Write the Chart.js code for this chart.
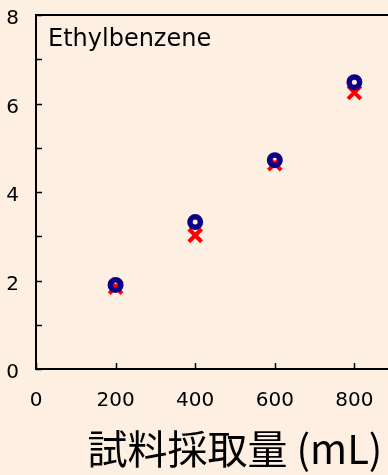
<!DOCTYPE html>
<html>
<head>
<meta charset="utf-8">
<script src="https://cdn.jsdelivr.net/npm/chart.js@4.4.1/dist/chart.umd.min.js"></script>
<style>
    html, body { margin: 0; padding: 0; background: #fdf0e3; overflow: hidden; }
    #wrap { width: 460px; height: 475px; position: relative; }
</style>
</head>
<body>
<div id="wrap"><canvas id="sampleChart"></canvas></div>
<script>
// 試料採取量 (mL) と測定値
const sampleVolumes = [200, 400, 600, 800];
const circleValues = [1.9, 3.32, 4.72, 6.48];
const crossValues = [1.85, 3.02, 4.64, 6.25];
const compoundName = 'Ethylbenzene';
const xTitle = '試料採取量 (mL)';

function toPoints(values) {
    return sampleVolumes.map((v, i) => ({ x: v, y: values[i] }));
}

// 枠線と内向きの目盛り、化合物名を描く
const framePlugin = {
    id: 'frame',
    beforeDatasetsDraw(chart) {
        const { ctx, chartArea, scales } = chart;
        const { left, right, top, bottom } = chartArea;
        ctx.save();
        ctx.strokeStyle = '#000';
        ctx.lineWidth = 2;
        ctx.strokeRect(left, top, right - left, bottom - top);

        ctx.lineWidth = 1.5;
        ctx.beginPath();
        scales.y.ticks.forEach(t => {
            const py = Math.round(scales.y.getPixelForValue(t.value)) + 0.5;
            ctx.moveTo(left, py);
            ctx.lineTo(left + 6, py);
        });
        scales.x.ticks.forEach(t => {
            const px = Math.round(scales.x.getPixelForValue(t.value)) + 0.5;
            ctx.moveTo(px, bottom);
            ctx.lineTo(px, bottom - 6);
        });
        ctx.stroke();

        ctx.fillStyle = '#000';
        ctx.font = '24px "DejaVu Sans"';
        ctx.textBaseline = 'alphabetic';
        ctx.fillText(compoundName, left + 12, top + 31);
        ctx.restore();
    }
};

Chart.defaults.font.family = '"DejaVu Sans", sans-serif';
Chart.defaults.color = '#000';

new Chart(document.getElementById('sampleChart'), {
    type: 'scatter',
    data: {
        datasets: [{
            label: 'circle',
            data: toPoints(circleValues),
            pointStyle: 'circle',
            pointRadius: 5.25,
            pointHoverRadius: 5.25,
            pointBorderWidth: 5.5,
            pointBorderColor: '#0c0088',
            pointBackgroundColor: 'rgba(0,0,0,0)',
            order: 0
        }, {
            label: 'cross',
            data: toPoints(crossValues),
            pointStyle: 'crossRot',
            pointRadius: 9,
            pointHoverRadius: 9,
            pointBorderWidth: 4,
            pointBorderColor: '#ff0000',
            order: 1
        }]
    },
    options: {
        responsive: true,
        maintainAspectRatio: false,
        devicePixelRatio: 1,
        animation: false,
        events: [],
        layout: { padding: { top: 15, right: 26, left: 0, bottom: 0 } },
        plugins: {
            legend: { display: false },
            tooltip: { enabled: false }
        },
        scales: {
            x: {
                type: 'linear',
                min: 0,
                max: 1000,
                grid: { display: false },
                border: { display: false },
                ticks: {
                    stepSize: 200,
                    padding: 12,
                    maxRotation: 0,
                    font: { size: 20 }
                },
                title: {
                    display: true,
                    text: xTitle,
                    font: { size: 40, family: '"Noto Sans CJK JP", sans-serif' },
                    padding: { top: 0, bottom: 2 }
                },
                afterFit(scale) {
                    scale.height = 106;
                    scale.paddingLeft = 0;
                    scale.paddingRight = 0;
                }
            },
            y: {
                min: 0,
                max: 8,
                grid: { display: false },
                border: { display: false },
                ticks: {
                    stepSize: 1,
                    padding: 9,
                    labelOffset: 4,
                    font: { size: 20 },
                    callback: v => (v % 2 === 0 ? v : '')
                },
                afterFit(scale) {
                    scale.width = 36;
                    scale.paddingTop = 0;
                    scale.paddingBottom = 0;
                }
            }
        }
    },
    plugins: [framePlugin]
});
</script>
</body>
</html>
